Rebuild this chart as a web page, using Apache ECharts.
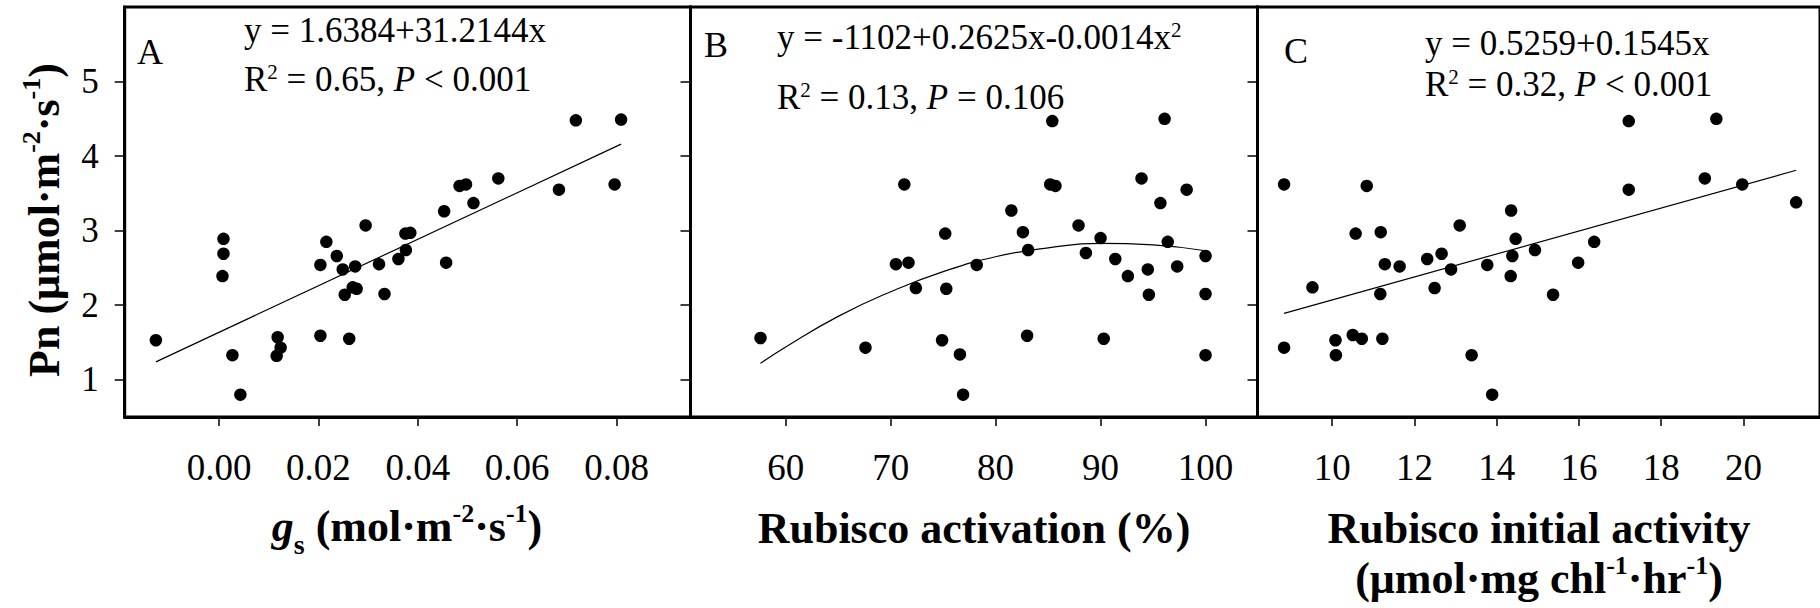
<!DOCTYPE html>
<html><head><meta charset="utf-8">
<script src="https://cdn.jsdelivr.net/npm/echarts@6/dist/echarts.min.js"></script>
<style>html,body{margin:0;padding:0;background:#fff}#c{width:1820px;height:608px}</style>
</head><body><div id="c"></div>
<script>
// ---------- data ----------
// Panel A: stomatal conductance gs vs Pn
const gsX = [-0.0127, 0.0009, 0.0009, 0.0007, 0.0027, 0.0043, 0.0118, 0.0124, 0.0116, 0.0204, 0.0204, 0.0216, 0.0237, 0.0249, 0.0274, 0.0253, 0.0269, 0.0277, 0.0262, 0.0295, 0.0322, 0.0333, 0.0361, 0.0375, 0.0385, 0.0376, 0.0453, 0.0457, 0.0484, 0.0497, 0.0512, 0.0562, 0.0684, 0.0718, 0.0796, 0.0809];
const pnA  = [1.53, 2.89, 2.69, 2.39, 1.33, 0.80, 1.57, 1.43, 1.32, 1.59, 2.54, 2.85, 2.66, 2.48, 2.52, 2.14, 2.24, 2.22, 1.55, 3.07, 2.55, 2.15, 2.62, 2.96, 2.97, 2.74, 3.26, 2.57, 3.60, 3.62, 3.37, 3.70, 3.55, 4.48, 3.62, 4.49];
const fitAX = [-0.0127, 0.0809];
const fitAY = [1.24, 4.16];
// Panel B: Rubisco activation (%) vs Pn
const actX = [57.6, 67.6, 70.5, 71.7, 71.3, 72.4, 75.2, 75.3, 74.9, 76.6, 76.9, 78.2, 81.5, 82.6, 83.1, 83.0, 85.4, 85.2, 85.7, 87.9, 88.6, 90.0, 90.3, 91.4, 92.6, 93.9, 94.5, 94.6, 95.7, 96.1, 96.4, 97.3, 98.2, 100.0, 100.0, 100.0];
const pnB  = [1.56, 1.43, 2.55, 2.57, 3.62, 2.23, 2.96, 2.22, 1.53, 1.34, 0.80, 2.54, 3.27, 2.98, 2.74, 1.59, 4.47, 3.62, 3.60, 3.07, 2.70, 2.90, 1.55, 2.62, 2.39, 3.70, 2.48, 2.14, 3.37, 4.50, 2.85, 2.52, 3.55, 2.66, 2.15, 1.33];
const fitBX = [57.6, 60, 65, 70, 75, 80, 85, 90, 95, 100];
const fitBY = [1.22, 1.44, 1.85, 2.18, 2.45, 2.65, 2.77, 2.83, 2.81, 2.73];
// Panel C: Rubisco initial activity vs Pn
const iniX = [8.83, 8.83, 9.52, 10.08, 10.09, 10.50, 10.72, 10.57, 10.84, 11.18, 11.28, 11.17, 11.22, 11.64, 12.31, 12.49, 12.66, 12.89, 13.10, 13.39, 13.77, 13.89, 14.35, 14.46, 14.38, 14.34, 14.93, 15.37, 15.98, 16.37, 17.21, 17.21, 19.06, 19.34, 19.97, 21.28];
const pnC  = [3.62, 1.43, 2.24, 1.53, 1.33, 1.60, 1.55, 2.96, 3.60, 2.98, 2.55, 2.15, 1.55, 2.52, 2.62, 2.23, 2.69, 2.48, 3.07, 1.33, 2.54, 0.80, 3.27, 2.89, 2.66, 2.39, 2.74, 2.14, 2.57, 2.85, 4.47, 3.55, 3.70, 4.50, 3.62, 3.38];
const fitCX = [8.83, 21.28];
const fitCY = [1.89, 3.81];
// tick labels
const yTicks  = [1, 2, 3, 4, 5];
const aTicks  = ['0.00', '0.02', '0.04', '0.06', '0.08'];
const bTicks  = ['60', '70', '80', '90', '100'];
const cTicks  = ['10', '12', '14', '16', '18', '20'];

// ---------- chart ----------
const FONT = 'Liberation Serif, Times New Roman, serif';
const zip = (xs, ys) => xs.map((x, i) => [x, ys[i]]);

const grids = [
  {left: 124.7, top: 7, width: 565.8, height: 410},
  {left: 690.5, top: 7, width: 567, height: 410},
  {left: 1257.5, top: 7, width: 566, height: 410}
].map(g => Object.assign(g, {show: true, borderColor: '#000', borderWidth: 3, backgroundColor: 'transparent'}));

const xRanges = [[-0.018974, 0.094869], [50.93, 104.95], [8.184, 21.86]];
const xTickSets = [aTicks, bTicks, cTicks];

const xAxes = xTickSets.map((ticks, i) => ({
  gridIndex: i, type: 'value', min: xRanges[i][0], max: xRanges[i][1],
  axisLine: {show: true, onZero: false, lineStyle: {color: '#000', width: 3}},
  axisTick: {show: true, inside: false, length: 9, lineStyle: {color: '#000', width: 1.5}, customValues: ticks.map(Number)},
  axisLabel: {show: true, customValues: ticks.map(Number), formatter: v => ticks[ticks.map(Number).indexOf(+v)] ?? String(v),
              margin: 32, fontSize: 37, fontFamily: FONT, color: '#000'},
  splitLine: {show: false}
}));

const yAxes = [0, 1, 2].map(i => ({
  gridIndex: i, type: 'value', min: 0.5, max: 6,
  axisLine: {show: true, onZero: false, lineStyle: {color: '#000', width: 3}},
  axisTick: {show: true, inside: false, length: 10, lineStyle: {color: '#000', width: 1.5}, customValues: yTicks},
  axisLabel: {show: i === 0, customValues: yTicks, margin: 26, fontSize: 35, fontFamily: FONT, color: '#000'},
  splitLine: {show: false}
}));

const lineS = (i, xs, ys, smooth) => ({type: 'line', xAxisIndex: i, yAxisIndex: i, data: zip(xs, ys), symbol: 'none', smooth: smooth,
  lineStyle: {color: '#000', width: 1.2}, silent: true, z: 2});
const dotS = (i, xs, ys) => ({type: 'scatter', xAxisIndex: i, yAxisIndex: i, data: zip(xs, ys), symbol: 'circle', symbolSize: 12.5,
  itemStyle: {color: '#000', opacity: 1}, silent: true, z: 3});

// rich text styles
const tok = (size, extra) => Object.assign({fontFamily: FONT, fontSize: size, fill: '#000', verticalAlign: 'bottom'}, extra || {});
const eqRich = {
  n: tok(35, {padding: [0, 0, 0, 0]}),
  i: tok(35, {fontStyle: 'italic', padding: [0, 0, 0, 0]}),
  sup: tok(21, {padding: [0, 0, 15, 0]})
};
const titleRich = {
  n: tok(44, {fontWeight: 'bold', padding: [0, 0, 10, 0]}),
  gi: tok(44, {fontWeight: 'bold', fontStyle: 'italic', padding: [0, 0, 10, 0]}),
  sub: tok(28, {fontWeight: 'bold', padding: [0, 0, 0, 0]}),
  sup: tok(26, {fontWeight: 'bold', padding: [0, 0, 32, 0]})
};
const txt = (x, y, text, rich, align, rot) => ({
  type: 'text', x: x, y: y, rotation: rot || 0, silent: true, z: 10,
  style: {text: text, rich: rich, align: align || 'left', verticalAlign: 'middle', fill: '#000', fontFamily: FONT, fontSize: 34}
});
const plain = (x, y, text, size, weight, align) => ({
  type: 'text', x: x, y: y, silent: true, z: 10,
  style: {text: text, align: align || 'left', verticalAlign: 'middle', fill: '#000', fontFamily: FONT, fontSize: size, fontWeight: weight || 'normal'}
});

const graphic = [
  plain(137, 52, 'A', 36),
  txt(244, 30, '{n|y = 1.6384+31.2144x}', eqRich),
  txt(244, 79, '{n|R}{sup|2}{n| = 0.65, }{i|P}{n| < 0.001}', eqRich),
  plain(704, 45, 'B', 36),
  txt(777, 37, '{n|y = -1102+0.2625x-0.0014x}{sup|2}', eqRich),
  txt(777, 97, '{n|R}{sup|2}{n| = 0.13, }{i|P}{n| = 0.106}', eqRich),
  plain(1284, 51, 'C', 36),
  txt(1425, 43, '{n|y = 0.5259+0.1545x}', eqRich),
  txt(1425, 84, '{n|R}{sup|2}{n| = 0.32, }{i|P}{n| < 0.001}', eqRich),
  txt(407, 529, '{gi|g}{sub|s}{n| (mol·m}{sup|-2}{n|·s}{sup|-1}{n|)}', titleRich, 'center'),
  plain(974, 528, 'Rubisco activation (%)', 44, 'bold', 'center'),
  plain(1539, 528, 'Rubisco initial activity', 44, 'bold', 'center'),
  txt(1539, 581.5, '{n|(μmol·mg chl}{sup|-1}{n|·hr}{sup|-1}{n|)}', titleRich, 'center'),
  txt(47, 220, '{n|Pn (μmol·m}{sup|-2}{n|·s}{sup|-1}{n|)}', titleRich, 'center', Math.PI / 2)
];

const chart = echarts.init(document.getElementById('c'), null, {renderer: 'svg', width: 1820, height: 608});
chart.setOption({
  animation: false,
  backgroundColor: '#fff',
  grid: grids,
  xAxis: xAxes,
  yAxis: yAxes,
  series: [
    lineS(0, fitAX, fitAY, false), dotS(0, gsX, pnA),
    lineS(1, fitBX, fitBY, true),  dotS(1, actX, pnB),
    lineS(2, fitCX, fitCY, false), dotS(2, iniX, pnC)
  ],
  graphic: graphic
});
</script>
</body></html>
